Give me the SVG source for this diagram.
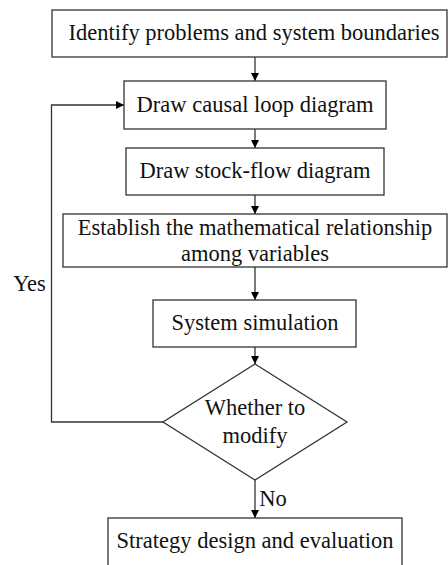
<svg xmlns="http://www.w3.org/2000/svg" width="448" height="565" viewBox="0 0 448 565">
<defs>
<marker id="ah" viewBox="0 0 10 10" refX="10" refY="5" markerWidth="8" markerHeight="8" markerUnits="userSpaceOnUse" orient="auto">
<path d="M0,0 L10,5 L0,10 z" fill="#000"/>
</marker>
<style>
.box{fill:#fff;stroke:#333;stroke-width:1.3}
.t{font-family:"Liberation Serif","Times New Roman",serif;font-size:22.5px;fill:#111;text-anchor:middle}
.c{fill:none;stroke:#333;stroke-width:1.3}
</style>
</defs>
<rect width="448" height="565" fill="#fff"/>
<g id="connectors">
<path class="c" d="M255,57 V81" marker-end="url(#ah)"/>
<path class="c" d="M255,129 V148" marker-end="url(#ah)"/>
<path class="c" d="M255,195 V214" marker-end="url(#ah)"/>
<path class="c" d="M255,267 V300" marker-end="url(#ah)"/>
<path class="c" d="M255,347 V364" marker-end="url(#ah)"/>
<path class="c" d="M255,480 V518" marker-end="url(#ah)"/>
<path class="c" d="M163,422 H51.5 V105 H124" marker-end="url(#ah)"/>
<text class="t" x="29.5" y="291">Yes</text>
<text class="t" x="273" y="506">No</text>
</g>
<g id="n1"><rect class="box" x="52" y="10" width="395" height="47"/><text class="t" x="254" y="40">Identify problems and system boundaries</text></g>
<g id="n2"><rect class="box" x="124" y="81" width="262" height="48"/><text class="t" x="255" y="112">Draw causal loop diagram</text></g>
<g id="n3"><rect class="box" x="126" y="148" width="258" height="47"/><text class="t" x="255" y="178">Draw stock-flow diagram</text></g>
<g id="n4"><rect class="box" x="63" y="214" width="384" height="53"/><text class="t" x="255" y="235">Establish the mathematical relationship</text><text class="t" x="255" y="261">among variables</text></g>
<g id="n5"><rect class="box" x="153" y="300" width="203" height="47"/><text class="t" x="255" y="330">System simulation</text></g>
<g id="n6"><path class="box" d="M255,364 L347,422 L255,480 L163,422 Z"/><text class="t" x="255" y="415">Whether to</text><text class="t" x="255" y="443">modify</text></g>
<g id="n7"><rect class="box" x="108" y="518" width="294" height="60"/><text class="t" x="255" y="548">Strategy design and evaluation</text></g>
</svg>
